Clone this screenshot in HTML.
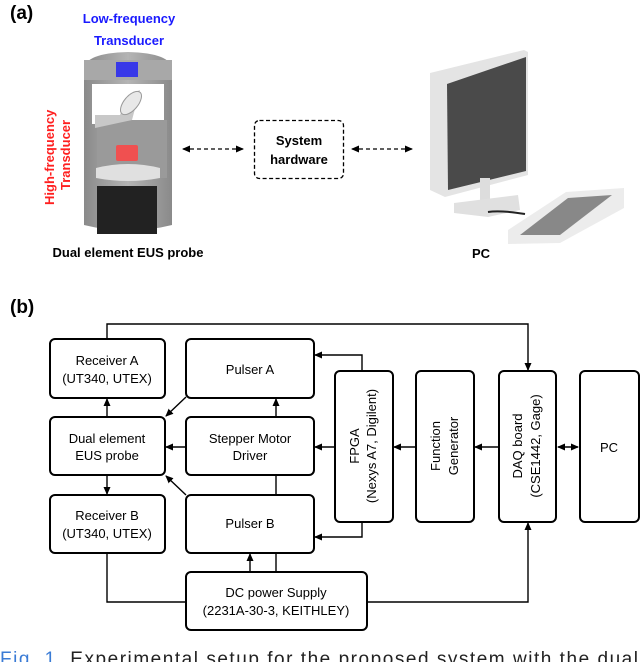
<!DOCTYPE html>
<html><head><meta charset="utf-8"><style>
html,body{margin:0;padding:0;background:#fff;}
svg{display:block;font-family:"Liberation Sans",sans-serif;}
</style></head><body>
<svg width="640" height="662" viewBox="0 0 640 662" xmlns="http://www.w3.org/2000/svg">
<defs>
<marker id="ah" markerWidth="8" markerHeight="8" refX="7" refY="4" orient="auto" markerUnits="userSpaceOnUse"><path d="M0,0.5 L8,4 L0,7.5 z" fill="#000"/></marker>
<marker id="ahs" markerWidth="8" markerHeight="8" refX="1" refY="4" orient="auto" markerUnits="userSpaceOnUse"><path d="M8,0.5 L0,4 L8,7.5 z" fill="#000"/></marker>
<linearGradient id="pg" x1="0" x2="1"><stop offset="0" stop-color="#8a8a8a"/><stop offset="0.5" stop-color="#b4b4b4"/><stop offset="1" stop-color="#8a8a8a"/></linearGradient>
</defs>
<!-- (a) -->
<text x="10" y="19" font-size="19" font-weight="bold">(a)</text>
<text x="129" y="23" font-size="13" font-weight="bold" fill="#1a1aff" text-anchor="middle">Low-frequency</text>
<text x="129" y="45" font-size="13" font-weight="bold" fill="#1a1aff" text-anchor="middle">Transducer</text>
<text transform="translate(54,205) rotate(-90)" font-size="13" font-weight="bold" fill="#ff2020">High-frequency</text>
<text transform="translate(70,190) rotate(-90)" font-size="13" font-weight="bold" fill="#ff2020">Transducer</text>
<!-- probe -->
<path d="M84,70 Q84,53 128,52 Q172,53 172,70 L172,225 Q128,236 84,225 Z" fill="url(#pg)"/>
<rect x="84" y="60" width="88" height="20" fill="#a8a8a8"/>
<rect x="116" y="62" width="22" height="15" fill="#3838e8"/>
<rect x="92" y="84" width="72" height="40" fill="#fff"/>
<rect x="97" y="120" width="70" height="58" fill="#9a9a9a"/>
<polygon points="95,115 120,115 128,95 140,90 132,120 95,128" fill="#c8c8c8"/>
<ellipse cx="131" cy="103" rx="7" ry="14" transform="rotate(40 131 103)" fill="#e8e8e8" stroke="#999"/>
<rect x="116" y="145" width="22" height="16" rx="2" fill="#f05050"/>
<path d="M96,168 Q128,160 160,168 L160,178 Q128,184 96,178 Z" fill="#e0e0e0"/>
<rect x="97" y="186" width="60" height="48" fill="#222"/>
<text x="128" y="257" font-size="13" font-weight="bold" text-anchor="middle">Dual element EUS probe</text>
<!-- dashed -->
<rect x="254.5" y="120.5" width="89" height="58" rx="5" fill="none" stroke="#000" stroke-width="1.3" stroke-dasharray="4,2.5"/>
<text x="299" y="145" font-size="13" font-weight="bold" text-anchor="middle">System</text>
<text x="299" y="164" font-size="13" font-weight="bold" text-anchor="middle">hardware</text>
<line x1="183" y1="149" x2="243" y2="149" stroke="#000" stroke-width="1.3" stroke-dasharray="4,3" marker-start="url(#ahs)" marker-end="url(#ah)"/>
<line x1="352" y1="149" x2="412" y2="149" stroke="#000" stroke-width="1.3" stroke-dasharray="4,3" marker-start="url(#ahs)" marker-end="url(#ah)"/>
<!-- monitor -->
<polygon points="430,73 524,50 528,52 528,175 445,197 430,190" fill="#e4e4e4"/>
<polygon points="447,84 526,57 526,171 448,190" fill="#4a4a4a"/>
<rect x="480" y="178" width="10" height="24" fill="#ddd"/>
<polygon points="454,203 518,195 520,210 488,217 454,213" fill="#e0e0e0"/>
<path d="M488,212 Q500,210 525,214" stroke="#222" stroke-width="2" fill="none"/>
<polygon points="508,230 566,192 624,188 624,208 560,243 508,244" fill="#ececec"/>
<polygon points="520,235 568,198 612,195 560,235" fill="#888"/>
<text x="481" y="258" font-size="13" font-weight="bold" text-anchor="middle">PC</text>
<!-- (b) -->
<text x="10" y="313" font-size="19" font-weight="bold">(b)</text>
<g fill="#fff" stroke="#000" stroke-width="2">
<rect x="50" y="339" width="115" height="59" rx="5"/>
<rect x="186" y="339" width="128" height="59" rx="5"/>
<rect x="50" y="417" width="115" height="58" rx="5"/>
<rect x="186" y="417" width="128" height="58" rx="5"/>
<rect x="50" y="495" width="115" height="58" rx="5"/>
<rect x="186" y="495" width="128" height="58" rx="5"/>
<rect x="335" y="371" width="58" height="151" rx="5"/>
<rect x="416" y="371" width="58" height="151" rx="5"/>
<rect x="499" y="371" width="57" height="151" rx="5"/>
<rect x="580" y="371" width="59" height="151" rx="5"/>
<rect x="186" y="572" width="181" height="58" rx="5"/>
</g>
<g font-size="13" text-anchor="middle">
<text x="107" y="365">Receiver A</text><text x="107" y="383">(UT340, UTEX)</text>
<text x="250" y="374">Pulser A</text>
<text x="107" y="443">Dual element</text><text x="107" y="460">EUS probe</text>
<text x="250" y="443">Stepper Motor</text><text x="250" y="460">Driver</text>
<text x="107" y="520">Receiver B</text><text x="107" y="538">(UT340, UTEX)</text>
<text x="250" y="528">Pulser B</text>
<text x="276" y="597">DC power Supply</text><text x="276" y="615">(2231A-30-3, KEITHLEY)</text>
<text x="609" y="452">PC</text>
<text transform="translate(359,446) rotate(-90)">FPGA</text>
<text transform="translate(376,446) rotate(-90)">(Nexys A7, Digilent)</text>
<text transform="translate(440,446) rotate(-90)">Function</text>
<text transform="translate(458,446) rotate(-90)">Generator</text>
<text transform="translate(522,446) rotate(-90)">DAQ board</text>
<text transform="translate(540,446) rotate(-90)">(CSE1442, Gage)</text>
</g>
<g stroke="#000" stroke-width="1.4" fill="none">
<polyline points="107,339 107,324 528,324 528,370" marker-end="url(#ah)"/>
<polyline points="107,553 107,602 186,602"/>
<polyline points="367,602 528,602 528,523" marker-end="url(#ah)"/>
<polyline points="362,371 362,355 315,355" marker-end="url(#ah)"/>
<polyline points="362,522 362,537 315,537" marker-end="url(#ah)"/>
<line x1="335" y1="447" x2="315" y2="447" marker-end="url(#ah)"/>
<line x1="416" y1="447" x2="394" y2="447" marker-end="url(#ah)"/>
<line x1="499" y1="447" x2="475" y2="447" marker-end="url(#ah)"/>
<line x1="558" y1="447" x2="578" y2="447" marker-start="url(#ahs)" marker-end="url(#ah)"/>
<line x1="186" y1="447" x2="166" y2="447" marker-end="url(#ah)"/>
<line x1="276" y1="417" x2="276" y2="399" marker-end="url(#ah)"/>
<line x1="276" y1="475" x2="276" y2="495"/>
<line x1="276" y1="572" x2="276" y2="553"/>
<line x1="250" y1="572" x2="250" y2="554" marker-end="url(#ah)"/>
<line x1="186" y1="397" x2="166" y2="416" marker-end="url(#ah)"/>
<line x1="186" y1="495" x2="166" y2="476" marker-end="url(#ah)"/>
<line x1="107" y1="417" x2="107" y2="399" marker-end="url(#ah)"/>
<line x1="107" y1="475" x2="107" y2="494" marker-end="url(#ah)"/>
</g>
<text x="0" y="665" font-size="19" fill="#222" textLength="638" lengthAdjust="spacing"><tspan fill="#3a7bd5">Fig. 1.</tspan>   Experimental setup for the proposed system with the dual</text>
</svg>
</body></html>
